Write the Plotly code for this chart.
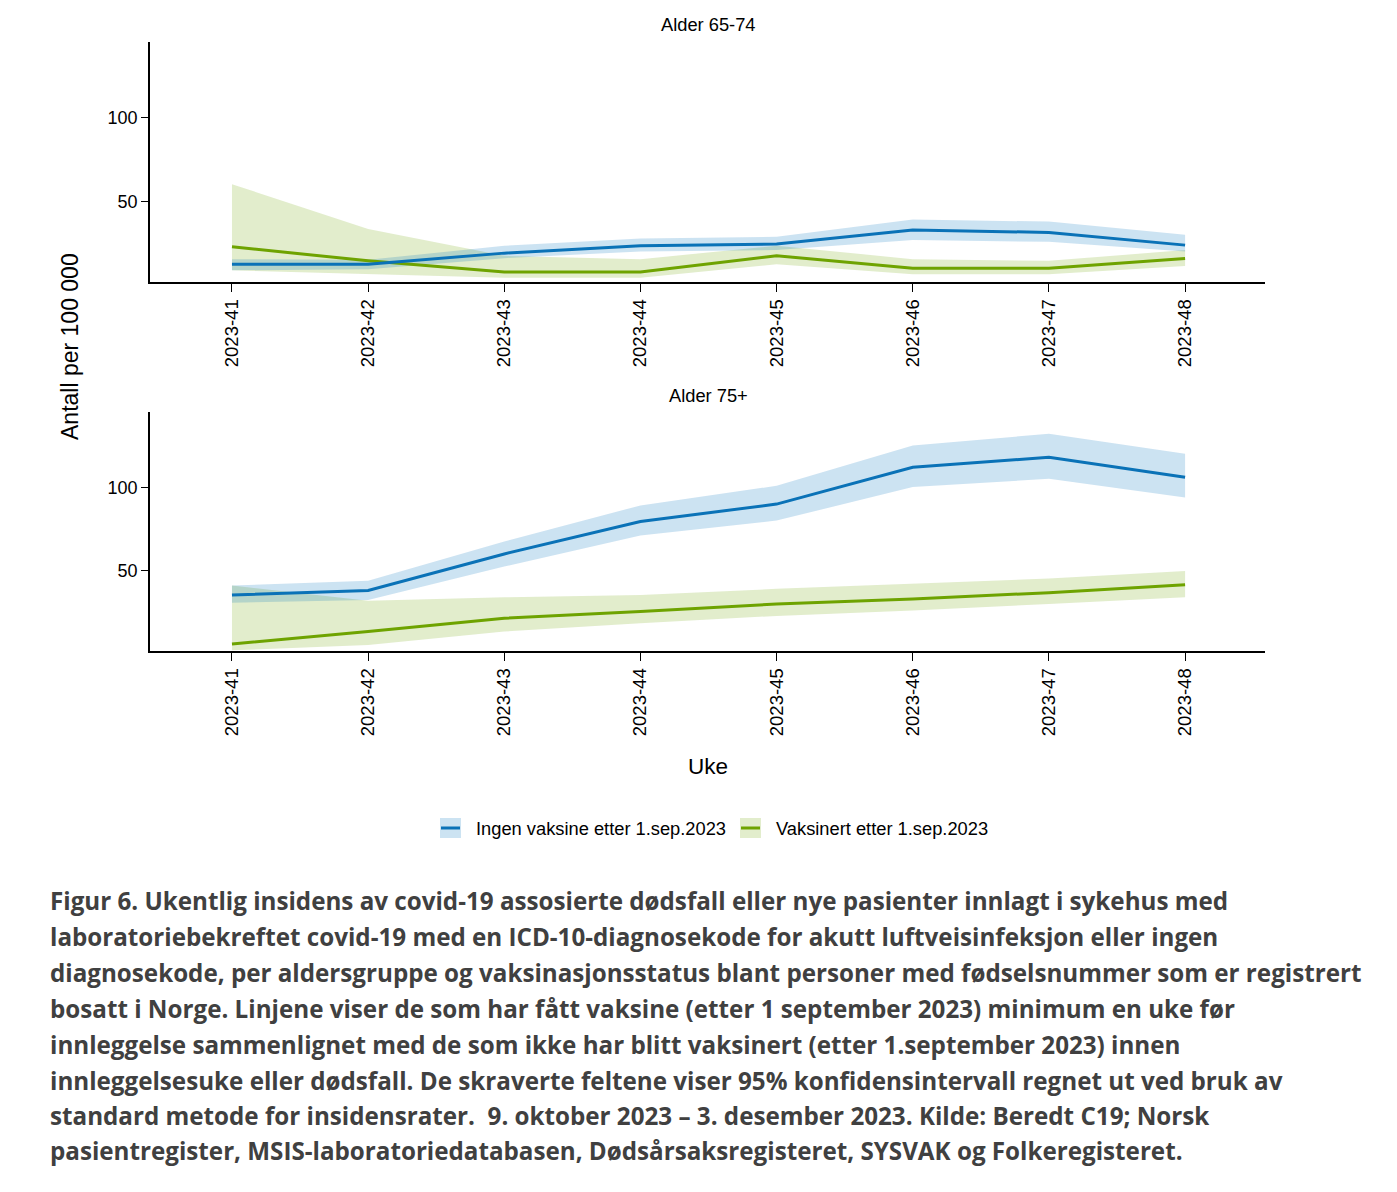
import plotly.graph_objects as go

W, H = 1397, 1192

weeks = ["2023-41", "2023-42", "2023-43", "2023-44", "2023-45", "2023-46", "2023-47", "2023-48"]

# Alder 65-74
a1_ingen = [12.2, 12.2, 18.9, 23.3, 24.3, 32.7, 31.3, 23.7]
a1_ingen_lo = [8.6, 9.3, 15.9, 19.9, 20.7, 26.7, 25.7, 19.9]
a1_ingen_hi = [15.3, 14.9, 23.3, 27.7, 28.7, 39.0, 37.8, 29.9]
a1_vaks = [22.7, 14.3, 7.6, 7.6, 17.3, 9.8, 9.8, 15.7]
a1_vaks_lo = [8.6, 6.2, 4.2, 4.2, 12.2, 6.2, 6.2, 11.2]
a1_vaks_hi = [60.2, 33.3, 17.3, 15.3, 23.3, 15.3, 14.3, 20.7]

# Alder 75+
a2_ingen = [35.3, 38.0, 60.0, 79.5, 90.0, 112.2, 118.1, 106.2]
a2_ingen_lo = [30.7, 32.3, 52.4, 71.1, 80.1, 100.2, 105.2, 94.0]
a2_ingen_hi = [41.0, 43.8, 67.5, 89.2, 101.0, 125.3, 132.3, 120.3]
a2_vaks = [5.8, 13.3, 21.3, 25.3, 29.9, 32.9, 36.7, 41.4]
a2_vaks_lo = [2.0, 5.2, 13.3, 18.3, 22.7, 25.9, 29.9, 33.9]
a2_vaks_hi = [41.0, 31.9, 33.9, 35.3, 39.0, 42.0, 45.2, 49.8]

panel_titles = ["Alder 65-74", "Alder 75+"]
series_names = ["Ingen vaksine etter 1.sep.2023", "Vaksinert etter 1.sep.2023"]
y_ticks = [50, 100]

caption_lines = [
    "Figur 6. Ukentlig insidens av covid-19 assosierte dødsfall eller nye pasienter innlagt i sykehus med",
    "laboratoriebekreftet covid-19 med en ICD-10-diagnosekode for akutt luftveisinfeksjon eller ingen",
    "diagnosekode, per aldersgruppe og vaksinasjonsstatus blant personer med fødselsnummer som er registrert",
    "bosatt i Norge. Linjene viser de som har fått vaksine (etter 1 september 2023) minimum en uke før",
    "innleggelse sammenlignet med de som ikke har blitt vaksinert (etter 1.september 2023) innen",
    "innleggelsesuke eller dødsfall. De skraverte feltene viser 95% konfidensintervall regnet ut ved bruk av",
    "standard metode for insidensrater.  9. oktober 2023 – 3. desember 2023. Kilde: Beredt C19; Norsk",
    "pasientregister, MSIS-laboratoriedatabasen, Dødsårsaksregisteret, SYSVAK og Folkeregisteret.",
]

BLUE = "#0a72b7"
BLUE_FILL = "rgba(0,114,188,0.2)"
GREEN = "#6ea300"
GREEN_FILL = "rgba(112,164,0,0.2)"

fig = go.Figure()

panels = [
    (a1_ingen, a1_ingen_lo, a1_ingen_hi, a1_vaks, a1_vaks_lo, a1_vaks_hi, "x", "y"),
    (a2_ingen, a2_ingen_lo, a2_ingen_hi, a2_vaks, a2_vaks_lo, a2_vaks_hi, "x2", "y2"),
]

for (ing, ing_lo, ing_hi, vak, vak_lo, vak_hi, xa, ya) in panels:
    for lo, hi, fc in [(vak_lo, vak_hi, GREEN_FILL), (ing_lo, ing_hi, BLUE_FILL)]:
        fig.add_trace(go.Scatter(x=weeks, y=lo, mode="lines", line=dict(width=0, color=fc),
                                 showlegend=False, hoverinfo="skip", xaxis=xa, yaxis=ya))
        fig.add_trace(go.Scatter(x=weeks, y=hi, mode="lines", line=dict(width=0, color=fc),
                                 fill="tonexty", fillcolor=fc, showlegend=False,
                                 hoverinfo="skip", xaxis=xa, yaxis=ya))
    fig.add_trace(go.Scatter(x=weeks, y=vak, mode="lines", line=dict(color=GREEN, width=3),
                             name=series_names[1], showlegend=False, xaxis=xa, yaxis=ya))
    fig.add_trace(go.Scatter(x=weeks, y=ing, mode="lines", line=dict(color=BLUE, width=3),
                             name=series_names[0], showlegend=False, xaxis=xa, yaxis=ya))

def px_x(p):
    return p / W

def px_y(p):
    return 1 - p / H

xdom = [px_x(150), px_x(1265)]
top_dom = [px_y(282), px_y(42)]
bot_dom = [px_y(651), px_y(412)]

font = "Liberation Sans, Arial, sans-serif"

xcommon = dict(
    type="category", range=[-0.602, 7.587], showline=True, linecolor="black", linewidth=1.8,
    ticks="outside", ticklen=8, tickwidth=1, tickcolor="black", tickangle=-90,
    tickfont=dict(family=font, size=18.5, color="black"), showgrid=False, zeroline=False,
    fixedrange=True,
)
ycommon = dict(
    range=[1.6, 145.4], showline=True, linecolor="black", linewidth=1.8,
    ticks="outside", ticklen=7, tickwidth=1, tickcolor="black", tickvals=y_ticks,
    tickfont=dict(family=font, size=18, color="black"), showgrid=False, zeroline=False,
    fixedrange=True,
)

fig.update_layout(
    width=W, height=H,
    margin=dict(l=0, r=0, t=0, b=0),
    paper_bgcolor="white", plot_bgcolor="white",
    showlegend=False,
    xaxis=dict(domain=xdom, anchor="y", **xcommon),
    yaxis=dict(domain=top_dom, anchor="x", **ycommon),
    xaxis2=dict(domain=xdom, anchor="y2", **xcommon),
    yaxis2=dict(domain=bot_dom, anchor="x2", **ycommon),
)

def note(text, x, y, size, xanchor="center", angle=0, family=font, color="black"):
    return dict(text=text, x=px_x(x), y=px_y(y), xref="paper", yref="paper",
                xanchor=xanchor, yanchor="middle", showarrow=False, textangle=angle,
                font=dict(family=family, size=size, color=color))

ann = []
ann.append(note(panel_titles[0], 708, 25, 18.3))
ann.append(note(panel_titles[1], 708, 395, 18.3))
ann.append(note("Antall per 100 000", 70, 347, 23, angle=-90))
ann.append(note("Uke", 708, 767, 22.5))

# Legend
shapes = []
leg_items = [(440, BLUE, BLUE_FILL, series_names[0]), (740, GREEN, GREEN_FILL, series_names[1])]
for x0, lc, fc, name in leg_items:
    shapes.append(dict(type="rect", xref="paper", yref="paper", x0=px_x(x0), x1=px_x(x0 + 21),
                       y0=px_y(838), y1=px_y(818), fillcolor=fc, line=dict(width=0)))
    shapes.append(dict(type="line", xref="paper", yref="paper", x0=px_x(x0 + 1), x1=px_x(x0 + 20),
                       y0=px_y(828), y1=px_y(828), line=dict(color=lc, width=3)))
    ann.append(note(name, x0 + 34, 828, 18.3, xanchor="left"))

# Caption
cap_y = [900, 936, 972, 1008, 1044, 1080, 1115, 1150]
for line, yy in zip(caption_lines, cap_y):
    ann.append(note("<b>" + line + "</b>", 48, yy, 24.2, xanchor="left",
                    family="Open Sans, sans-serif", color="#404040"))

fig.update_layout(annotations=ann, shapes=shapes)

fig.write_html("out.html", config={"displayModeBar": False},
               post_script="document.body.style.margin='0';document.body.style.padding='0';")
